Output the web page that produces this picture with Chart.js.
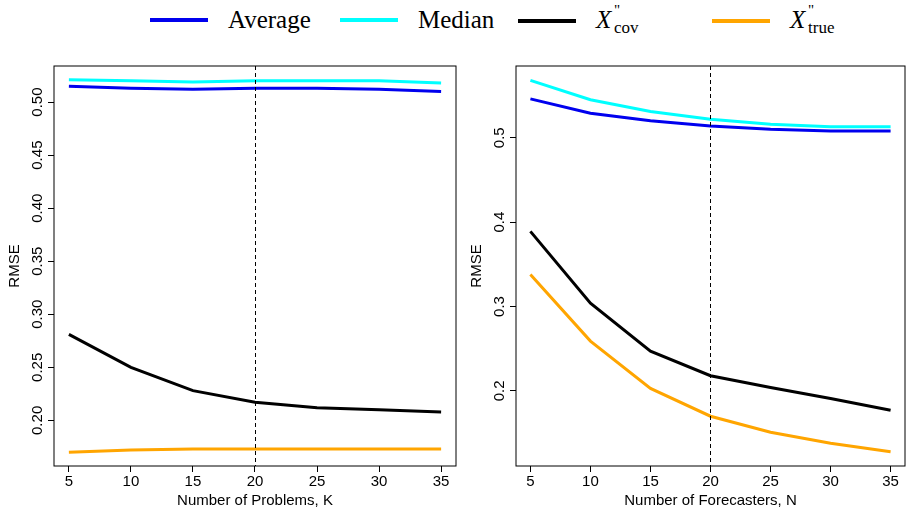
<!DOCTYPE html>
<html><head><meta charset="utf-8">
<script src="https://cdn.jsdelivr.net/npm/chart.js@4/dist/chart.umd.min.js"></script>
<style>
body{margin:0;background:#fff;width:906px;height:510px;position:relative;overflow:hidden;font-family:"Liberation Serif",serif}
#legend{position:absolute;top:2px;left:0;width:906px;height:50px;font-size:25px}
.it{position:absolute;top:4px;display:flex;align-items:center}
.sw{width:58px;height:4px;margin-right:20px}
.xl{position:relative;display:inline-block;width:60px;height:30px}
.xl i{position:absolute;left:0;top:0}
.xl .p{position:absolute;left:18px;top:-4px;font-size:15px}
.xl .b{position:absolute;left:18px;top:12px;font-size:17px}
.c{position:absolute;top:52px}
</style></head><body>
<div id="legend">
  <div class="it" style="left:150px"><span class="sw" style="background:#0000ee"></span>Average</div>
  <div class="it" style="left:340px"><span class="sw" style="background:#00ffff"></span>Median</div>
  <div class="it" style="left:518px"><span class="sw" style="background:#000"></span><span class="xl"><i>X</i><span class="p">"</span><span class="b">cov</span></span></div>
  <div class="it" style="left:712px"><span class="sw" style="background:#ffa500"></span><span class="xl"><i>X</i><span class="p">"</span><span class="b">true</span></span></div>
</div>
<div class="c" style="left:0;width:462px;height:458px"><canvas id="left"></canvas></div>
<div class="c" style="left:462px;width:444px;height:458px"><canvas id="right"></canvas></div>
<script>
const xs = [5, 10, 15, 20, 25, 30, 35];
const kAverage = [0.515, 0.513, 0.512, 0.513, 0.513, 0.512, 0.510];
const kMedian = [0.521, 0.520, 0.519, 0.520, 0.520, 0.520, 0.518];
const kCov = [0.281, 0.250, 0.228, 0.217, 0.212, 0.210, 0.208];
const kTrue = [0.170, 0.172, 0.173, 0.173, 0.173, 0.173, 0.173];
const nAverage = [0.546, 0.529, 0.520, 0.514, 0.510, 0.508, 0.508];
const nMedian = [0.568, 0.545, 0.531, 0.522, 0.516, 0.513, 0.513];
const nCov = [0.389, 0.304, 0.247, 0.218, 0.204, 0.191, 0.177];
const nTrue = [0.338, 0.259, 0.203, 0.170, 0.151, 0.138, 0.128];
const leftTicks = [0.20, 0.25, 0.30, 0.35, 0.40, 0.45, 0.50];
const rightTicks = [0.2, 0.3, 0.4, 0.5];

const font = { family: "'Liberation Sans', Arial, sans-serif", size: 15 };

const frame = {
  id: 'frame',
  afterDraw(chart) {
    const { ctx, chartArea: a, scales: { x, y } } = chart;
    ctx.save();
    ctx.strokeStyle = '#000';
    ctx.lineWidth = 1;
    ctx.strokeRect(a.left, a.top, a.right - a.left, a.bottom - a.top);
    const px = Math.round(x.getPixelForValue(20)) + 0.5;
    ctx.setLineDash([4, 3]);
    ctx.beginPath(); ctx.moveTo(px, a.top); ctx.lineTo(px, a.bottom); ctx.stroke();
    // y tick labels read bottom-to-top, R style
    ctx.fillStyle = '#000';
    ctx.font = "15px 'Liberation Sans', Arial, sans-serif";
    ctx.textAlign = 'center';
    ctx.textBaseline = 'bottom';
    const d = chart.options.plugins.frame.digits;
    y.ticks.forEach(t => {
      ctx.save();
      ctx.translate(a.left - 9, y.getPixelForValue(t.value));
      ctx.rotate(-Math.PI / 2);
      ctx.fillText(t.value.toFixed(d), 0, 0);
      ctx.restore();
    });
    ctx.restore();
  }
};

function ds(label, data, color) {
  return { label, data: data.map((y, i) => ({ x: xs[i], y })), borderColor: color, borderWidth: 3, pointRadius: 0, tension: 0, fill: false };
}

function makeChart(id, series, ymin, ymax, ticks, digits, xTitle, pad) {
  new Chart(document.getElementById(id), {
    type: 'line',
    data: { datasets: [ds('Average', series[0], '#0000ee'), ds('Median', series[1], '#00ffff'), ds('Xcov', series[2], '#000'), ds('Xtrue', series[3], '#ffa500')] },
    options: {
      responsive: true, maintainAspectRatio: false, animation: false,
      layout: { padding: pad },
      plugins: { legend: { display: false }, tooltip: { enabled: false }, frame: { digits } },
      scales: {
        x: {
          type: 'linear', min: 3.8, max: 36.2,
          afterBuildTicks: s => { s.ticks = xs.map(v => ({ value: v })); },
          grid: { drawOnChartArea: false, color: '#000', tickLength: 6 },
          border: { display: false },
          ticks: { color: '#000', font, maxRotation: 0, padding: 1 },
          title: { display: true, text: xTitle, color: '#000', font, padding: { top: 0, bottom: 0 } }
        },
        y: {
          min: ymin, max: ymax,
          afterBuildTicks: s => { s.ticks = ticks.map(v => ({ value: v })); },
          grid: { drawOnChartArea: false, color: '#000', tickLength: 6 },
          border: { display: false },
          ticks: { color: 'rgba(0,0,0,0)', font, minRotation: 90, maxRotation: 90, callback: v => v.toFixed(digits) },
          title: { display: true, text: 'RMSE', color: '#000', font, padding: 0 }
        }
      }
    },
    plugins: [frame]
  });
}

makeChart('left', [kAverage, kMedian, kCov, kTrue], 0.157, 0.534, leftTicks, 2, 'Number of Problems, K', { left: 6, right: 6, top: 14, bottom: 0 });
makeChart('right', [nAverage, nMedian, nCov, nTrue], 0.111, 0.585, rightTicks, 1, 'Number of Forecasters, N', { left: 6, right: 1, top: 14, bottom: 0 });
</script>
</body></html>
